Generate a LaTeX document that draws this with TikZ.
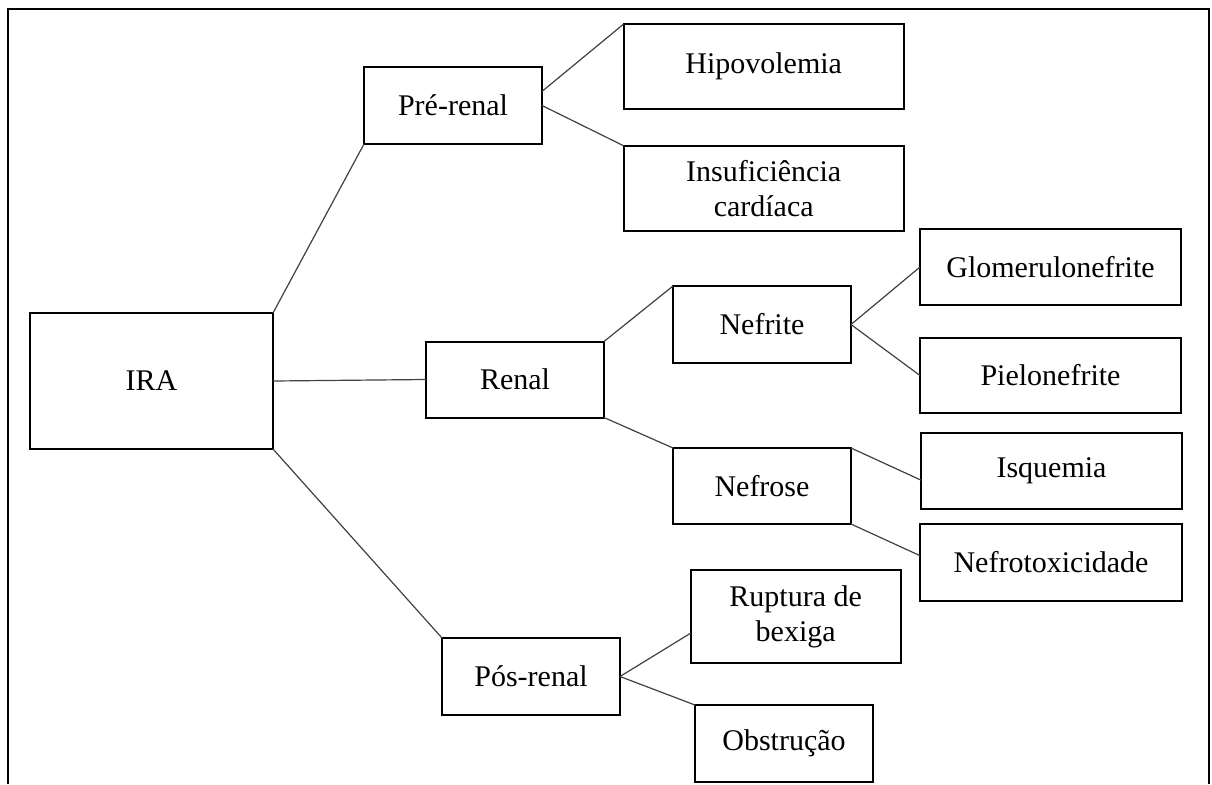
\documentclass[tikz,border=0pt]{standalone}
\usepackage{fontspec}
\setmainfont{Liberation Serif}
\tikzset{
	box/.style={draw, black, line width=1pt, inner sep=0pt, outer sep=0pt, align=center, font=\fontsize{15}{17.5}\selectfont},
	link/.style={black!75, line width=0.6pt},
	frame/.style={black, line width=1.1pt},
}

\begin{document}
\begin{tikzpicture}[x=0.5pt,y=-0.5pt]
			
			\useasboundingbox (0,0) rectangle (1212,784);
			
			% Frame (open at the bottom)
			\draw[frame] (8,784) -- (8,9) -- (1209,9) -- (1209,784);
			
			% Root
			\node[box, minimum width=121.5pt, minimum height=68pt] (ira) at (151.5,381) {IRA};
			
			% First level
			\node[box, minimum width=89pt, minimum height=38.5pt] (pre) at (453,105.5) {Pré-renal};
			\node[box, minimum width=89pt, minimum height=38pt] (renal) at (515,379.5) {Renal};
			\node[box, minimum width=89pt, minimum height=38.5pt] (pos) at (531,676.5) {Pós-renal};
			
			% Pre-renal causes
			\node[box, minimum width=140pt, minimum height=42.5pt] (hipo) at (763.7,66.5) {Hipovolemia};
			\node[box, minimum width=140pt, minimum height=42.5pt] (insuf) at (763.7,188.3) {Insuficiência\\cardíaca};
			
			% Renal branches
			\node[box, minimum width=89pt, minimum height=38.5pt] (nefrite) at (762,324.5) {Nefrite};
			\node[box, minimum width=89pt, minimum height=38pt] (nefrose) at (762,486) {Nefrose};
			\node[box, minimum width=130.5pt, minimum height=38pt] (glom) at (1050.5,267) {Glomerulonefrite};
			\node[box, minimum width=130.5pt, minimum height=37.5pt] (pielo) at (1050.5,375.5) {Pielonefrite};
			\node[box, minimum width=130.5pt, minimum height=38pt] (isq) at (1051.5,471) {Isquemia};
			\node[box, minimum width=131pt, minimum height=38.5pt] (toxi) at (1051,562.5) {Nefrotoxicidade};
			
			% Post-renal causes
			\node[box, minimum width=105pt, minimum height=46.5pt] (rupt) at (795.7,616.5) {Ruptura de\\bexiga};
			\node[box, minimum width=89pt, minimum height=38.5pt] (obst) at (784,743.5) {Obstrução};
			
			% Connectors
			\draw[link] (ira.north east) -- (pre.south west);
			\draw[link] (ira.east) -- (renal.west);
			\draw[link] (ira.south east) -- (pos.north west);
			
			\draw[link] (pre.9) -- (hipo.north west);
			\draw[link] (pre.east) -- (insuf.north west);
			
			\draw[link] (renal.north east) -- (nefrite.north west);
			\draw[link] (renal.south east) -- (nefrose.north west);
			
			\draw[link] (nefrite.east) -- (glom.west);
			\draw[link] (nefrite.east) -- (pielo.west);
			\draw[link] (nefrose.north east) -- (isq.184);
			\draw[link] (nefrose.south east) -- (toxi.177);
			
			\draw[link] (pos.east) -- (rupt.189);
			\draw[link] (pos.east) -- (obst.north west);
			
		\end{tikzpicture}
\end{document}
